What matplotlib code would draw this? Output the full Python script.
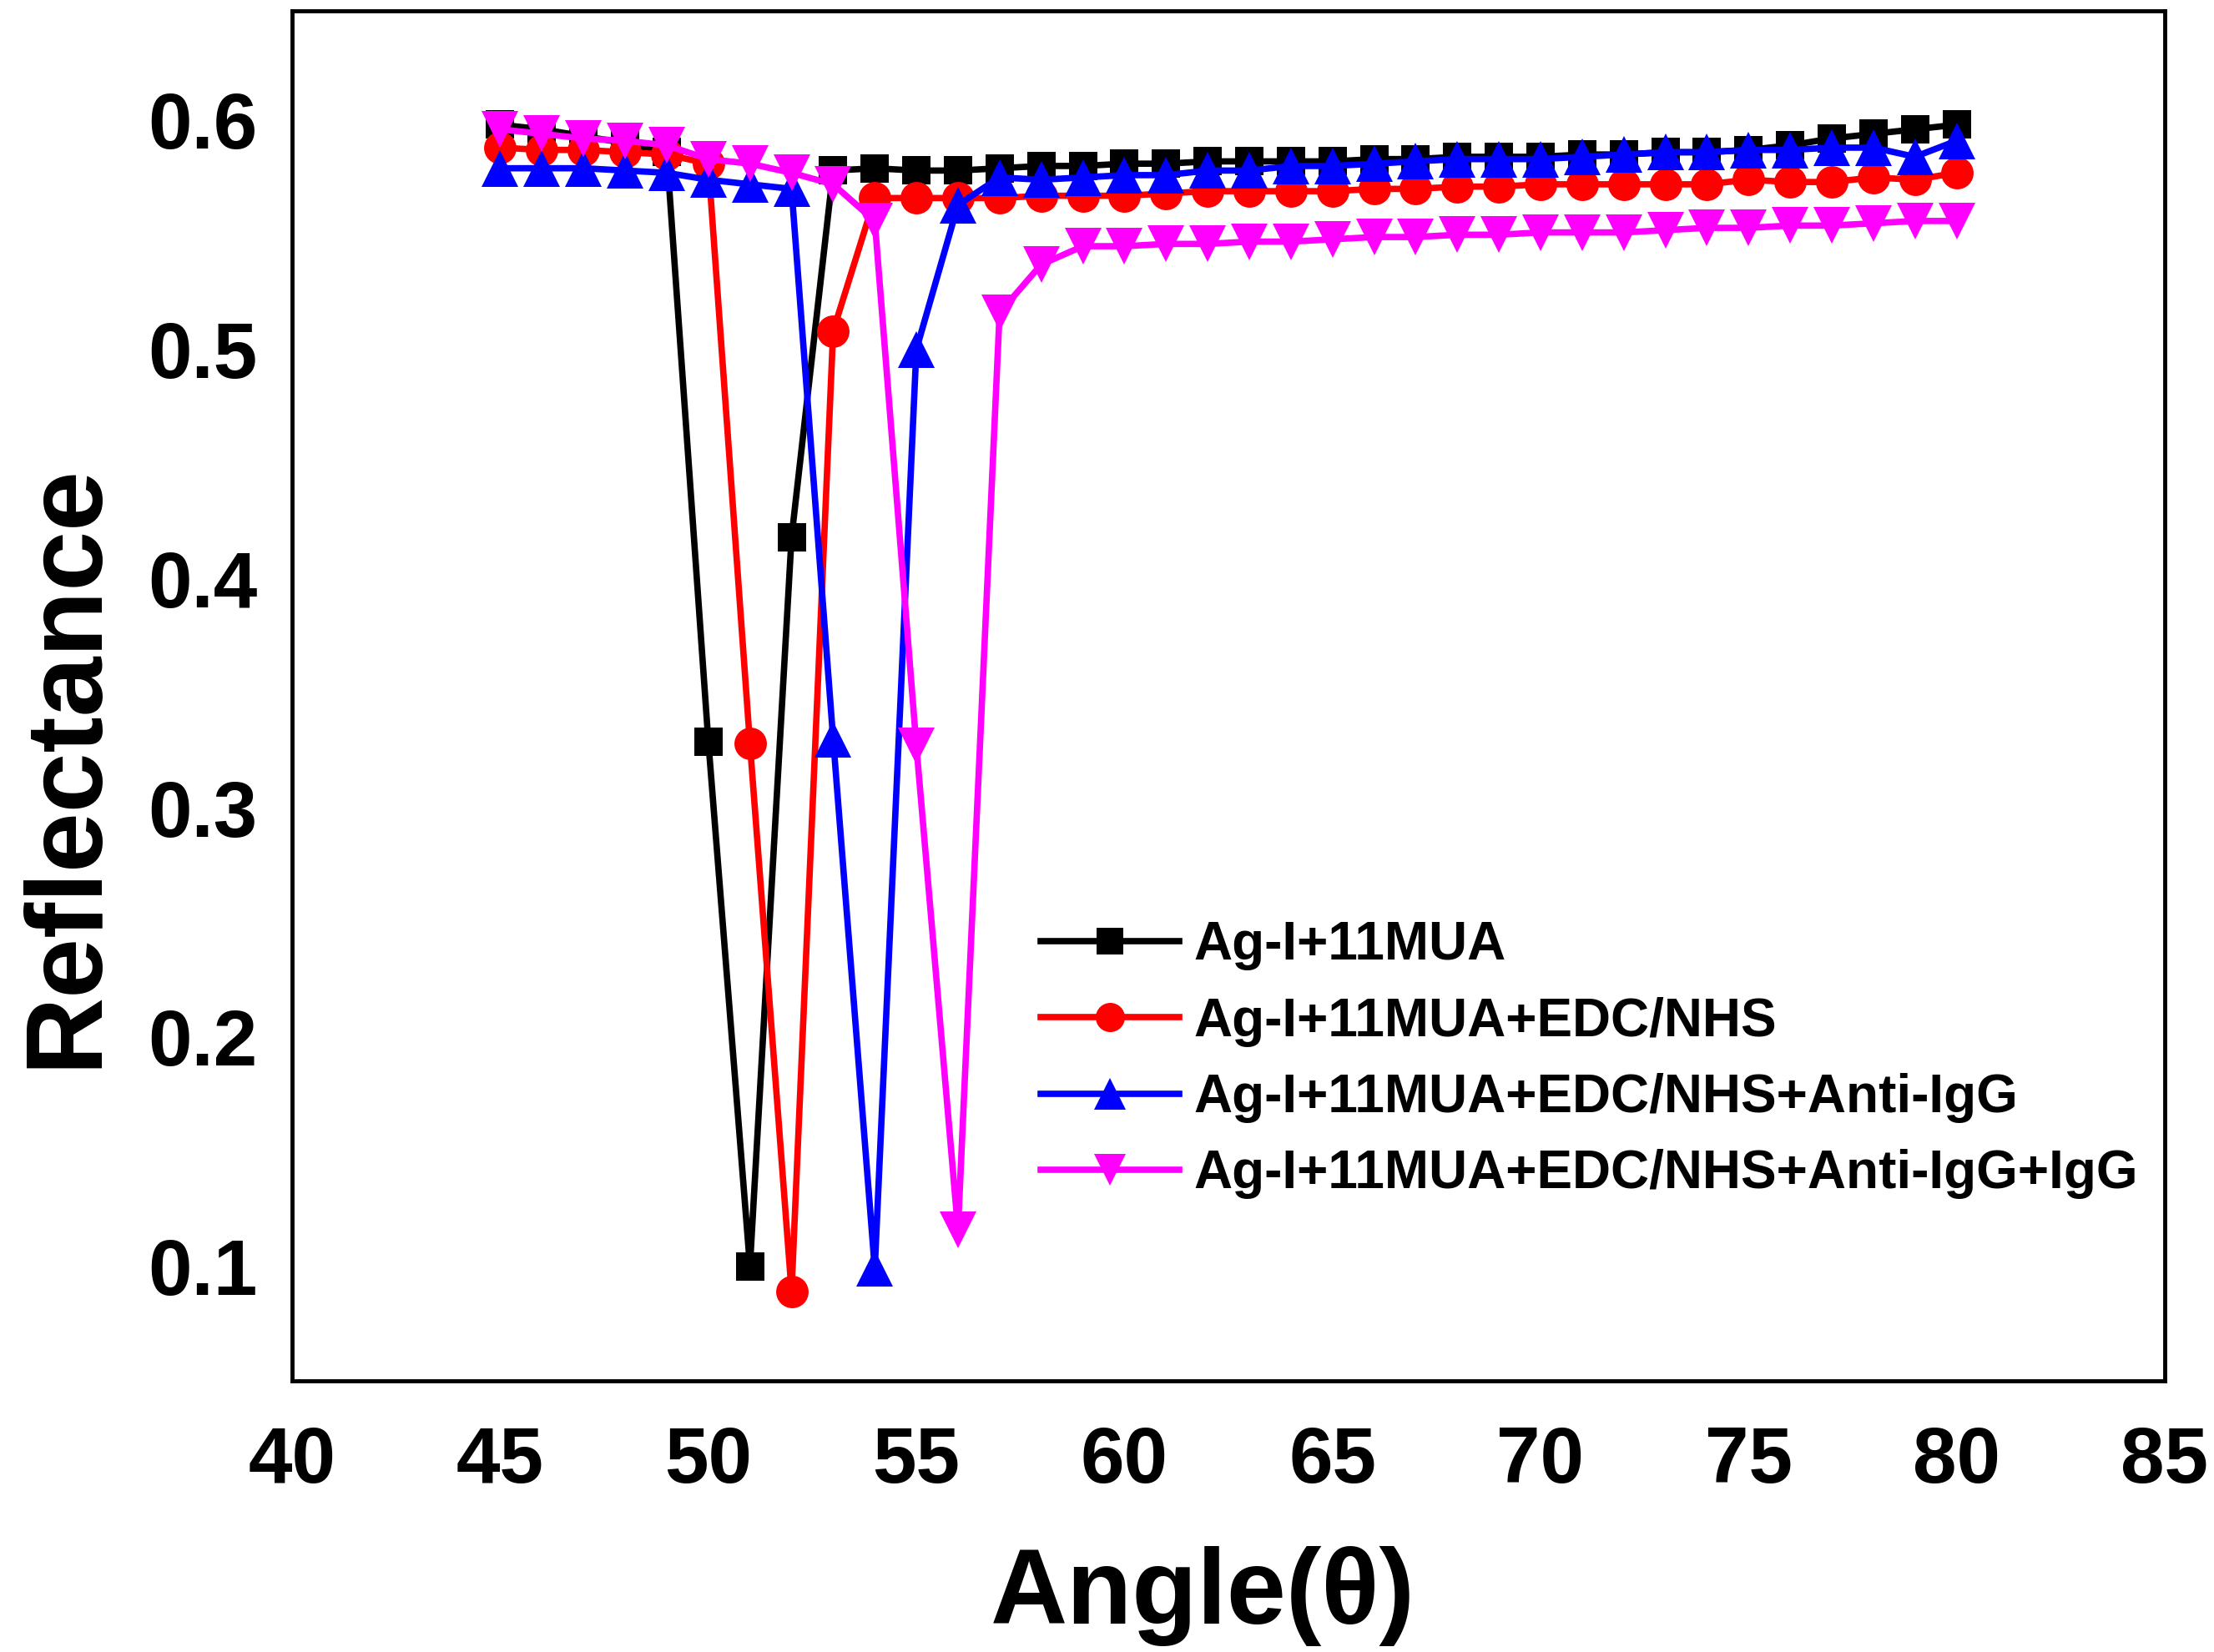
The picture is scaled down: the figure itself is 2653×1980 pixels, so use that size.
import matplotlib
matplotlib.use("Agg")
import matplotlib.pyplot as plt
import numpy as np

angles = list(range(45, 81))

labels = ["Ag-I+11MUA", "Ag-I+11MUA+EDC/NHS",
          "Ag-I+11MUA+EDC/NHS+Anti-IgG", "Ag-I+11MUA+EDC/NHS+Anti-IgG+IgG"]

black_vals = [0.598, 0.596, 0.593, 0.590, 0.586, 0.329, 0.100, 0.418, 0.578, 0.579,
              0.578, 0.578, 0.579, 0.580, 0.580, 0.581, 0.581, 0.582, 0.582, 0.582,
              0.582, 0.583, 0.583, 0.584, 0.584, 0.584, 0.585, 0.585, 0.586, 0.586,
              0.587, 0.589, 0.592, 0.594, 0.596, 0.598]
red_vals = [0.588, 0.587, 0.587, 0.586, 0.585, 0.581, 0.328, 0.089, 0.508, 0.566,
            0.566, 0.566, 0.566, 0.567, 0.567, 0.567, 0.568, 0.569, 0.569, 0.569,
            0.569, 0.570, 0.570, 0.571, 0.571, 0.572, 0.572, 0.572, 0.572, 0.572,
            0.574, 0.573, 0.573, 0.575, 0.574, 0.577]
blue_vals = [0.579, 0.579, 0.579, 0.578, 0.577, 0.574, 0.572, 0.570, 0.330, 0.099,
             0.500, 0.563, 0.575, 0.574, 0.575, 0.576, 0.576, 0.578, 0.578, 0.580,
             0.580, 0.581, 0.582, 0.583, 0.583, 0.583, 0.584, 0.585, 0.586, 0.586,
             0.587, 0.587, 0.588, 0.588, 0.584, 0.591]
magenta_vals = [0.596, 0.594, 0.592, 0.591, 0.589, 0.583, 0.581, 0.577, 0.572, 0.556,
                0.327, 0.116, 0.516, 0.537, 0.545, 0.545, 0.546, 0.546, 0.547, 0.547,
                0.548, 0.549, 0.549, 0.550, 0.550, 0.551, 0.551, 0.551, 0.552, 0.553,
                0.553, 0.554, 0.554, 0.555, 0.556, 0.556]

xticks = [40, 45, 50, 55, 60, 65, 70, 75, 80, 85]
yticks = [0.1, 0.2, 0.3, 0.4, 0.5, 0.6]

plt.rcParams['font.family'] = ['Liberation Sans', 'DejaVu Sans']
plt.rcParams['font.weight'] = 'bold'

fig = plt.figure(figsize=(26.53, 19.80), dpi=100)
ax = fig.add_axes([0.132, 0.1641, 0.9777 - 0.132, 0.9932 - 0.1641])

series = [
    (black_vals, 'black', 's', 25),
    (red_vals, '#FF0000', 'o', 28),
    (blue_vals, '#0000FF', '^', 31),
    (magenta_vals, '#FF00FF', 'v', 31),
]
for (vals, col, mk, ms), lab in zip(series, labels):
    ax.plot(angles, vals, color=col, marker=mk, markersize=ms, linewidth=5.5,
            markeredgewidth=0, label=lab)

ax.set_xlim(40, 85)
ax.set_ylim(0.05, 0.6475)
ax.set_xticks(xticks)
ax.set_yticks(yticks)
ax.set_xticklabels([str(v) for v in xticks])
ax.set_yticklabels([f"{v:.1f}" for v in yticks])
ax.tick_params(axis='both', length=0, labelsize=68)
ax.tick_params(axis='y', pad=30)
ax.tick_params(axis='x', pad=38)
for lbl in ax.get_xticklabels() + ax.get_yticklabels():
    lbl.set_fontweight('bold')
for sp in ax.spines.values():
    sp.set_linewidth(3.5)
    sp.set_color('black')

fig.text(0.0306, 0.5368, "Reflectance", rotation=90, ha='center', va='center',
         fontsize=93, fontweight='bold')
fig.text(0.5434, 0.034, "Angle(θ)", ha='center', va='center',
         fontsize=92, fontweight='bold')

leg = ax.legend(loc='upper left', bbox_to_anchor=(0.3997, 0.336), frameon=False,
                fontsize=46, handlelength=2.6, handletextpad=0.27,
                labelspacing=0.49, borderpad=0, borderaxespad=0, markerscale=0.9)
for t in leg.get_texts():
    t.set_fontweight('bold')

fig.savefig("out.png", dpi=100, facecolor='white')
